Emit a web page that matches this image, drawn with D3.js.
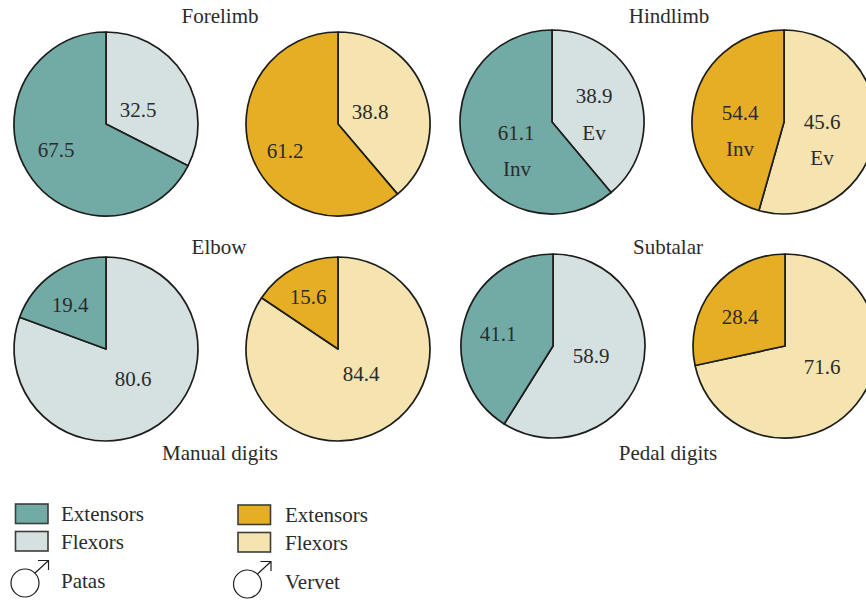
<!DOCTYPE html>
<html>

<head>
    <meta charset="UTF-8">
    <style>
        html, body {
            margin: 0;
            background: #fff;
            overflow: hidden;
        }

        svg text {
            font-family: "Liberation Serif", serif;
            font-size: 21px;
            fill: #2b2b2b;
        }
    </style>
    <title>Muscle mass pies</title>
</head>

<body>
    <svg id="chart" width="866" height="602"></svg>

    <script src="https://d3js.org/d3.v7.min.js"></script>
    <script>
        const titles = ["Forelimb", "Hindlimb", "Elbow", "Subtalar", "Manual digits", "Pedal digits"];
        // share drawn for the dark slice of each pie, patas then vervet
        const darkShare = [67.5, 61.2, 61.1, 45.6, 19.4, 15.6, 41.1, 28.4];
        const lightShare = [32.5, 38.8, 38.9, 54.4, 80.6, 84.4, 58.9, 71.6];
        // printed numbers (hindlimb vervet is printed the other way round in the figure)
        const darkLabels = ["67.5", "61.2", "61.1", "54.4", "19.4", "15.6", "41.1", "28.4"];
        const lightLabels = ["32.5", "38.8", "38.9", "45.6", "80.6", "84.4", "58.9", "71.6"];
        const darkNames = ["", "", "Inv", "Inv", "", "", "", ""];
        const lightNames = ["", "", "Ev", "Ev", "", "", "", ""];
        const legendNames = ["Extensors", "Flexors"];
        const monkeys = ["Patas", "Vervet"];

        const patasColors = ["#72aba6", "#d5e1e0"];
        const vervetColors = ["#e5ae24", "#f5e4b0"];
        const ink = "#1d1d1b";

        const svg = d3.select("#chart");
        const radius = 92;
        const centers = [[106, 124], [338, 124], [552, 122], [784, 122], [106, 349], [338, 349], [553, 346], [785, 346]];
        const darkLabelPos = [[56, 150], [285, 151], [516, 133], [740, 113], [70, 305], [308, 297], [498, 334], [740, 317]];
        const lightLabelPos = [[138, 110], [370, 112], [594, 96], [822, 122], [133, 379], [361, 374], [591, 356], [822, 367]];
        const darkNamePos = [null, null, [517, 169], [740, 149]];
        const lightNamePos = [null, null, [594, 133], [822, 158]];

        const arc = d3.arc().innerRadius(0).outerRadius(radius);
        // light slice runs clockwise from 12 o'clock, dark slice closes the circle
        const pie = d3.pie().sort(null).value(d => d);

        centers.forEach((c, i) => {
            const colors = i % 2 === 0 ? patasColors : vervetColors;
            const g = svg.append("g").attr("transform", `translate(${c[0]},${c[1]})`);
            g.selectAll("path")
                .data(pie([lightShare[i], darkShare[i]]))
                .join("path")
                .attr("d", arc)
                .attr("fill", (d, j) => colors[1 - j])
                .attr("stroke", ink)
                .attr("stroke-width", 1.7)
                .attr("stroke-linejoin", "round");

            svg.append("text").attr("x", darkLabelPos[i][0]).attr("y", darkLabelPos[i][1] + 7)
                .attr("text-anchor", "middle").text(darkLabels[i]);
            svg.append("text").attr("x", lightLabelPos[i][0]).attr("y", lightLabelPos[i][1] + 7)
                .attr("text-anchor", "middle").text(lightLabels[i]);

            if (darkNames[i]) {
                svg.append("text").attr("x", darkNamePos[i][0]).attr("y", darkNamePos[i][1] + 7)
                    .attr("text-anchor", "middle").text(darkNames[i]);
                svg.append("text").attr("x", lightNamePos[i][0]).attr("y", lightNamePos[i][1] + 7)
                    .attr("text-anchor", "middle").text(lightNames[i]);
            }
        });

        const titlePos = [[220, 23], [669, 23], [219, 254], [668, 254], [220, 460], [668, 460]];
        svg.selectAll("text.title")
            .data(titles)
            .join("text")
            .attr("class", "title")
            .attr("x", (d, i) => titlePos[i][0])
            .attr("y", (d, i) => titlePos[i][1])
            .attr("text-anchor", "middle")
            .text(d => d);

        // legend columns
        const legendX = [15.5, 238];
        const legendTextX = [61, 285];
        const legendY = [[504, 531.5], [505, 532.5]];
        const symbolCx = [25, 247.5];
        const symbolCy = [583, 584];
        const nameY = [588, 589];

        monkeys.forEach((m, k) => {
            const colors = k === 0 ? patasColors : vervetColors;
            legendNames.forEach((n, j) => {
                svg.append("rect")
                    .attr("x", legendX[k])
                    .attr("y", legendY[k][j])
                    .attr("width", 32.5)
                    .attr("height", 19.5)
                    .attr("fill", colors[j])
                    .attr("stroke", "#3c3c3a")
                    .attr("stroke-width", 1.6);
                svg.append("text")
                    .attr("x", legendTextX[k])
                    .attr("y", legendY[k][j] + 17)
                    .text(n);
            });

            // male symbol
            const cx = symbolCx[k], cy = symbolCy[k];
            const s = svg.append("g").attr("fill", "none").attr("stroke", ink).attr("stroke-width", 1.2);
            s.append("circle").attr("cx", cx).attr("cy", cy).attr("r", 14);
            s.append("path").attr("d", `M${cx + 10},${cy - 10}L${cx + 23.5},${cy - 22.5}M${cx + 13},${cy - 22.5}H${cx + 23.5}V${cy - 13}`);

            svg.append("text").attr("x", legendTextX[k]).attr("y", nameY[k]).text(m);
        });
    </script>
</body>

</html>
